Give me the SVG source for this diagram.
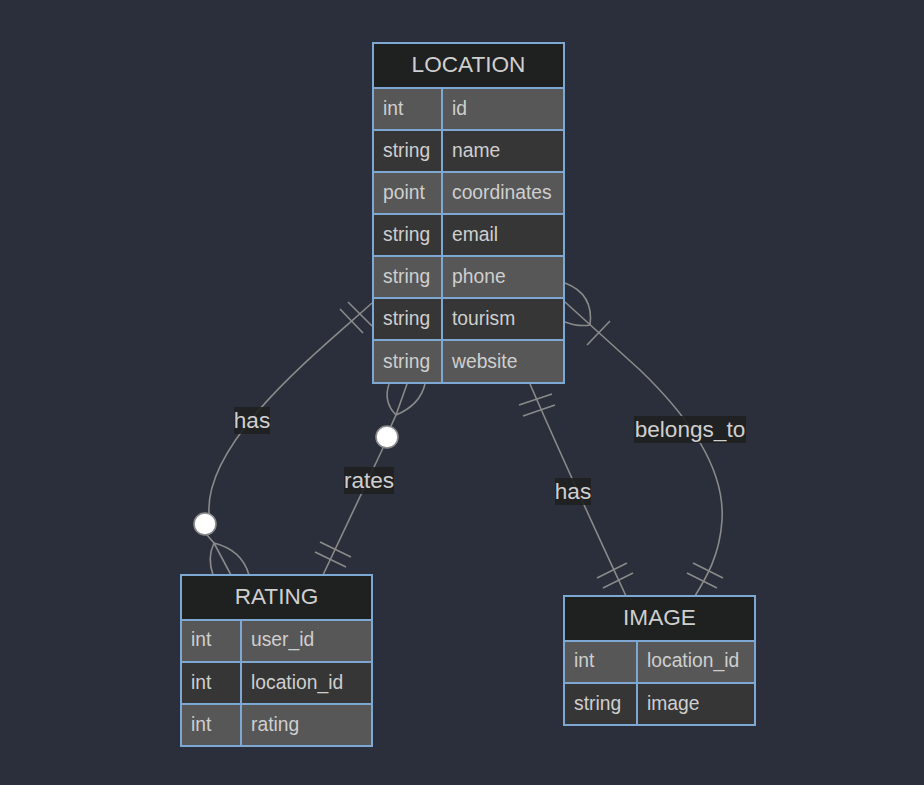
<svg xmlns="http://www.w3.org/2000/svg" width="924" height="785" viewBox="0 0 924 785">
<style>
.bg{fill:#2a2f3b}
.hd{fill:#1f2020;stroke:#7ea8d4;stroke-width:2}
.odd{fill:#575757;stroke:#7ea8d4;stroke-width:2}
.even{fill:#363636;stroke:#7ea8d4;stroke-width:2}
.ht{font-family:"Liberation Sans",Arial,sans-serif;font-size:22.6px;fill:#cfcfcf;text-anchor:middle;dominant-baseline:central}
.at{font-family:"Liberation Sans",Arial,sans-serif;font-size:19.3px;fill:#cfcfcf;dominant-baseline:central}
.e{fill:none;stroke:#8a8a8a;stroke-width:1.6}
.c{fill:#ffffff;stroke:#8a8a8a;stroke-width:1.6}
.lb{fill:#1f2020;opacity:0.9}
.lt{font-family:"Liberation Sans",Arial,sans-serif;font-size:22.6px;fill:#cfcfcf;text-anchor:middle;dominant-baseline:central}
</style>
<rect class="bg" x="0" y="0" width="924" height="785"/>

<g id="connectors">
  <!-- LOCATION has RATING -->
  <path class="e" d="M372,303 C320,350 205,440 209,513"/>
  <path class="e" d="M207,535 L214,543 L231,575 M214,543 Q207,558 213,575 M214,543 Q242,550 249,575"/>
  <path class="e" d="M348,302 L372,326 M340,309 L363,333"/>
  <circle class="c" cx="205" cy="524" r="11"/>
  <!-- RATING rates LOCATION -->
  <path class="e" d="M383,448 L323,575"/>
  <path class="e" d="M320,542 L351,557 M315,552 L346,567"/>
  <path class="e" d="M391,426 L396,415 L407,384 M396,415 Q383,402 389,384 M396,415 Q420,405 425,384"/>
  <circle class="c" cx="387" cy="437" r="11"/>
  <!-- LOCATION has IMAGE -->
  <path class="e" d="M530,384 C550,430 600,540 626,596"/>
  <path class="e" d="M519,405 L552,394 M523,416 L555,405"/>
  <path class="e" d="M597,578 L627,563 M603,588 L633,573"/>
  <!-- IMAGE belongs_to LOCATION -->
  <path class="e" d="M565,302 L640,370 C690,418 725,470 722,520 C720,555 706,578 695,596"/>
  <path class="e" d="M565,283 Q594,294 590,325 M565,322 Q578,327 590,325"/>
  <path class="e" d="M587,345 L610,321"/>
  <path class="e" d="M693,563 L723,578 M687,573 L717,588"/>

  <rect class="lb" x="234" y="407" width="36" height="27"/>
  <text class="lt" x="252" y="420">has</text>
  <rect class="lb" x="344" y="467" width="50" height="27"/>
  <text class="lt" x="369" y="480">rates</text>
  <rect class="lb" x="555" y="478" width="36" height="27"/>
  <text class="lt" x="573" y="491">has</text>
  <rect class="lb" x="634" y="416" width="112" height="27"/>
  <text class="lt" x="690" y="429">belongs_to</text>
</g>

<g id="LOCATION">
  <rect class="hd" x="373" y="43" width="191" height="45"/>
  <text class="ht" x="468.5" y="64">LOCATION</text>
  <rect class="odd" x="373" y="88" width="69" height="42"/><rect class="odd" x="442" y="88" width="122" height="42"/>
  <rect class="even" x="373" y="130" width="69" height="42"/><rect class="even" x="442" y="130" width="122" height="42"/>
  <rect class="odd" x="373" y="172" width="69" height="42"/><rect class="odd" x="442" y="172" width="122" height="42"/>
  <rect class="even" x="373" y="214" width="69" height="42"/><rect class="even" x="442" y="214" width="122" height="42"/>
  <rect class="odd" x="373" y="256" width="69" height="42"/><rect class="odd" x="442" y="256" width="122" height="42"/>
  <rect class="even" x="373" y="298" width="69" height="42"/><rect class="even" x="442" y="298" width="122" height="42"/>
  <rect class="odd" x="373" y="340" width="69" height="43"/><rect class="odd" x="442" y="340" width="122" height="43"/>
  <text class="at" x="383" y="108">int</text><text class="at" x="452" y="108">id</text>
  <text class="at" x="383" y="150">string</text><text class="at" x="452" y="150">name</text>
  <text class="at" x="383" y="192">point</text><text class="at" x="452" y="192">coordinates</text>
  <text class="at" x="383" y="234">string</text><text class="at" x="452" y="234">email</text>
  <text class="at" x="383" y="276">string</text><text class="at" x="452" y="276">phone</text>
  <text class="at" x="383" y="318">string</text><text class="at" x="452" y="318">tourism</text>
  <text class="at" x="383" y="361">string</text><text class="at" x="452" y="361">website</text>
</g>

<g id="RATING">
  <rect class="hd" x="181" y="575" width="191" height="45"/>
  <text class="ht" x="276.5" y="596">RATING</text>
  <rect class="odd" x="181" y="620" width="60" height="42"/><rect class="odd" x="241" y="620" width="131" height="42"/>
  <rect class="even" x="181" y="662" width="60" height="42"/><rect class="even" x="241" y="662" width="131" height="42"/>
  <rect class="odd" x="181" y="704" width="60" height="42"/><rect class="odd" x="241" y="704" width="131" height="42"/>
  <text class="at" x="191" y="639">int</text><text class="at" x="251" y="639">user_id</text>
  <text class="at" x="191" y="682">int</text><text class="at" x="251" y="682">location_id</text>
  <text class="at" x="191" y="724">int</text><text class="at" x="251" y="724">rating</text>
</g>

<g id="IMAGE">
  <rect class="hd" x="564" y="596" width="191" height="45"/>
  <text class="ht" x="659.5" y="617">IMAGE</text>
  <rect class="odd" x="564" y="641" width="73" height="42"/><rect class="odd" x="637" y="641" width="118" height="42"/>
  <rect class="even" x="564" y="683" width="73" height="42"/><rect class="even" x="637" y="683" width="118" height="42"/>
  <text class="at" x="574" y="660">int</text><text class="at" x="647" y="660">location_id</text>
  <text class="at" x="574" y="703">string</text><text class="at" x="647" y="703">image</text>
</g>
</svg>
